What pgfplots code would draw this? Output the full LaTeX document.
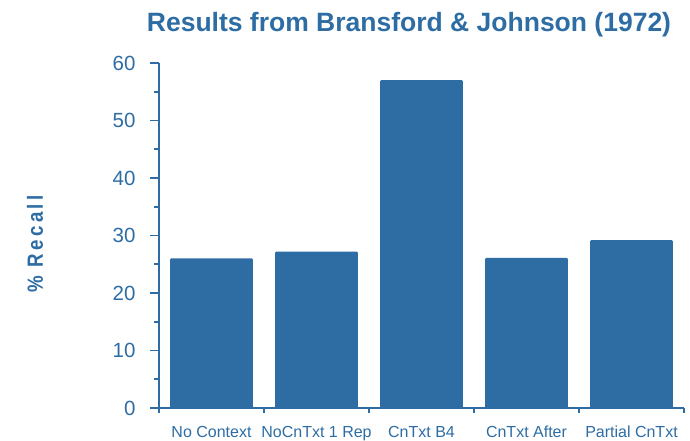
\documentclass[border=0pt]{standalone}
\usepackage{fontspec}
\setmainfont{Liberation Sans}
\usepackage{pgfplots}
\pgfplotsset{compat=1.18}
\definecolor{barblue}{HTML}{2E6DA4}

\begin{document}
\begin{tikzpicture}[x=1pt,y=1pt]
\clip (0,0) rectangle (690,441);
\fill[white] (0,0) rectangle (690,441);
% title
\node[text=barblue,font=\fontsize{26.5}{30}\selectfont\bfseries,anchor=base]
  at (409,409) {Results from Bransford \& Johnson (1972)};
% y axis label
\node[text=barblue,rotate=90,xscale=0.85,transform shape,anchor=center,
  font=\fontsize{22}{24}\selectfont\bfseries\addfontfeatures{LetterSpace=18}]
  at (35,197) {\% Recall};
\begin{axis}[
  at={(159pt,33pt)}, anchor=south west,
  scale only axis, width=525pt, height=345pt,
  xmin=-0.5, xmax=4.5, ymin=0, ymax=60,
  axis x line*=bottom, axis y line*=left,
  axis line style={barblue, line width=1.6pt, -},
  xtick={0,1,2,3,4},
  xticklabels={No Context, NoCnTxt 1 Rep, CnTxt B4, CnTxt After, Partial CnTxt},
  minor xtick={-0.5,0.5,1.5,2.5,3.5,4.5},
  ytick={0,10,...,60},
  minor ytick={5,15,...,55},
  tick align=outside,
  tick style={barblue, line width=1.6pt},
  major x tick style={draw=none},
  minor tick length=5pt,
  major tick length=9pt,
  tick label style={text=barblue},
  /pgf/number format/assume math mode=true,
  yticklabel style={font=\fontsize{20.5}{24}\selectfont, xshift=-11pt},
  xticklabel style={font=\fontsize{16}{19}\selectfont, anchor=base, yshift=-21pt},
  ybar, bar width=82.6pt,
  clip=false,
]
\addplot[fill=barblue, draw=none, rounded corners=1pt] coordinates {
  (0,26.0) (1,27.2) (2,57.0) (3,26.1) (4,29.2)
};
\end{axis}
\end{tikzpicture}
\end{document}
